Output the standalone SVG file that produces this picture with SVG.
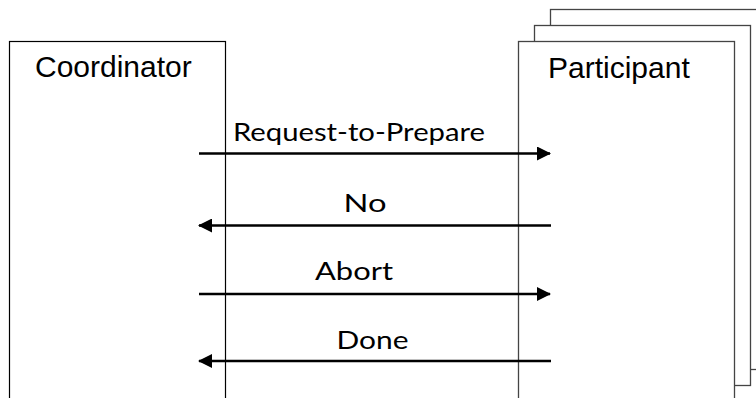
<svg xmlns="http://www.w3.org/2000/svg" width="756" height="398" viewBox="0 0 756 398">
  <style>
    .box { fill: #ffffff; stroke: #000000; stroke-width: 1.2; }
    .stack { fill: #ffffff; stroke: #444444; stroke-width: 1.3; }
    .title { font-family: "Liberation Sans", Arial, sans-serif; font-size: 30px; fill: #000000; }
    .msg { font-family: Lato, "Noto Sans", sans-serif; font-size: 25px; fill: #000000; }
    .arrow { stroke: #000000; stroke-width: 2.6; fill: none; }
  </style>
  <defs>
    <marker id="head" viewBox="0 0 14 14" refX="13" refY="7" markerWidth="14" markerHeight="14" markerUnits="userSpaceOnUse" orient="auto">
      <path d="M0,0 L14,7 L0,14 Z" fill="#000000"/>
    </marker>
  </defs>

  <!-- coordinator lifeline box -->
  <g id="coordinator">
    <rect class="box" x="9.5" y="41.5" width="216" height="370"/>
    <text class="title" x="35" y="77">Coordinator</text>
  </g>

  <!-- stacked participant boxes -->
  <g id="participant">
    <rect class="stack" x="550.5" y="9.5" width="216" height="360"/>
    <rect class="stack" x="534.5" y="25.5" width="216" height="360"/>
    <rect class="stack" x="518.5" y="41.5" width="216" height="370"/>
    <text class="title" x="548" y="78">Participant</text>
  </g>

  <!-- messages -->
  <g id="connectors">
    <line class="arrow" x1="199" y1="153.5" x2="550" y2="153.5" marker-end="url(#head)"/>
    <text class="msg" x="233" y="141" textLength="252" lengthAdjust="spacingAndGlyphs">Request-to-Prepare</text>

    <line class="arrow" x1="551" y1="225.5" x2="199" y2="225.5" marker-end="url(#head)"/>
    <text class="msg" x="343.5" y="212" textLength="43" lengthAdjust="spacingAndGlyphs">No</text>

    <line class="arrow" x1="199" y1="294" x2="550" y2="294" marker-end="url(#head)"/>
    <text class="msg" x="315" y="280" textLength="78" lengthAdjust="spacingAndGlyphs">Abort</text>

    <line class="arrow" x1="551" y1="361" x2="199" y2="361" marker-end="url(#head)"/>
    <text class="msg" x="336.5" y="349" textLength="72" lengthAdjust="spacingAndGlyphs">Done</text>
  </g>
</svg>
